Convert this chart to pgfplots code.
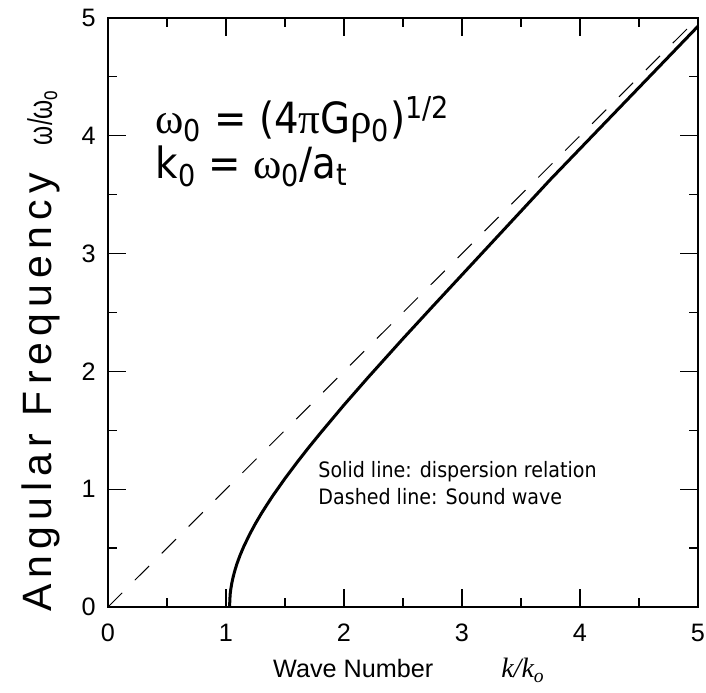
\documentclass[border=0pt]{standalone}
\usepackage{fontspec}
\setmainfont{Liberation Sans}
\newfontfamily\tahoma{DejaVu Sans Condensed}
\newfontfamily\symb{Liberation Serif}
\newfontfamily\spaced[LetterSpace=15]{Liberation Sans}
\usepackage{pgfplots}
\pgfplotsset{compat=1.18}

\begin{document}
\begin{tikzpicture}
\begin{axis}[
  width=295pt, height=294.5pt, scale only axis,
  xmin=0, xmax=5, ymin=0, ymax=5,
  xtick={0,1,2,3,4,5}, ytick={0,1,2,3,4,5},
  minor tick num=1,
  tick align=inside,
  major tick length=9pt, minor tick length=4.5pt,
  axis line style={line width=0.8pt},
  tick style={black, line width=0.6pt},
  /pgf/number format/assume math mode=true,
  tick label style={font=\fontsize{12.6}{14}\selectfont},
  xticklabel style={inner sep=0pt, yshift=-8.5pt},
  yticklabel style={inner sep=0pt, xshift=-6pt},
  every axis x label/.style={at={(axis description cs:0.268,-0.1205)}, anchor=base west},
  every axis y label/.style={at={(axis description cs:-0.095,-0.02)}, anchor=base west, rotate=90},
  xlabel={\fontsize{12.6}{14}\selectfont Wave Number\hspace{34pt}{\symb\itshape\fontsize{14}{16}\selectfont k/k\textsubscript{o}}},
  ylabel={\fontsize{20.5}{24}\selectfont{\spaced Angular Frequency}\hspace{14pt}{\fontsize{17}{20}\selectfont\scalebox{0.72}[1]{ω/ω\textsubscript{o}}}},
  clip=false,
]
% sound wave
\addplot[black, line width=0.5pt, dash pattern=on 10pt off 9pt] coordinates {(0,0) (5,5)};
% dispersion relation
\addplot[black, line width=1.5pt, line join=round] coordinates {
  (1.03,0) (1.035,0.106) (1.04,0.147) (1.05,0.206) (1.06,0.252) (1.07,0.291)
  (1.08,0.326) (1.09,0.358) (1.10,0.387) (1.12,0.441) (1.15,0.512) (1.20,0.616)
  (1.25,0.709) (1.30,0.794) (1.35,0.873) (1.40,0.949) (1.50,1.091) (1.60,1.225)
  (1.70,1.353) (1.80,1.476) (2.00,1.715) (2.20,1.944) (2.50,2.278) (2.75,2.550)
  (3.00,2.820) (3.25,3.090) (3.50,3.360) (3.75,3.630) (4.00,3.890) (4.25,4.150)
  (4.50,4.410) (4.75,4.670) (5.00,4.930)};
\node[anchor=base west, inner sep=0pt, font=\tahoma\fontsize{21.5}{24}\selectfont]
  at (axis cs:0.40,4.02) {{\symb ω}\textsubscript{0} = (4{\symb π}G{\symb ρ}\textsubscript{0})\textsuperscript{1/2}};
\node[anchor=base west, inner sep=0pt, font=\tahoma\fontsize{21.5}{24}\selectfont]
  at (axis cs:0.40,3.64) {k\textsubscript{0} = {\symb ω}\textsubscript{0}/a\textsubscript{t}};
\node[anchor=base west, inner sep=0pt, font=\tahoma\fontsize{10.6}{13}\selectfont]
  at (axis cs:1.78,1.10) {Solid line: dispersion relation};
\node[anchor=base west, inner sep=0pt, font=\tahoma\fontsize{10.6}{13}\selectfont]
  at (axis cs:1.78,0.866) {Dashed line: Sound wave};
\end{axis}
\path (current axis.south west) ++(-54pt,-43pt);
\path (current axis.north east) ++(4pt,9pt);
\end{tikzpicture}
\end{document}
